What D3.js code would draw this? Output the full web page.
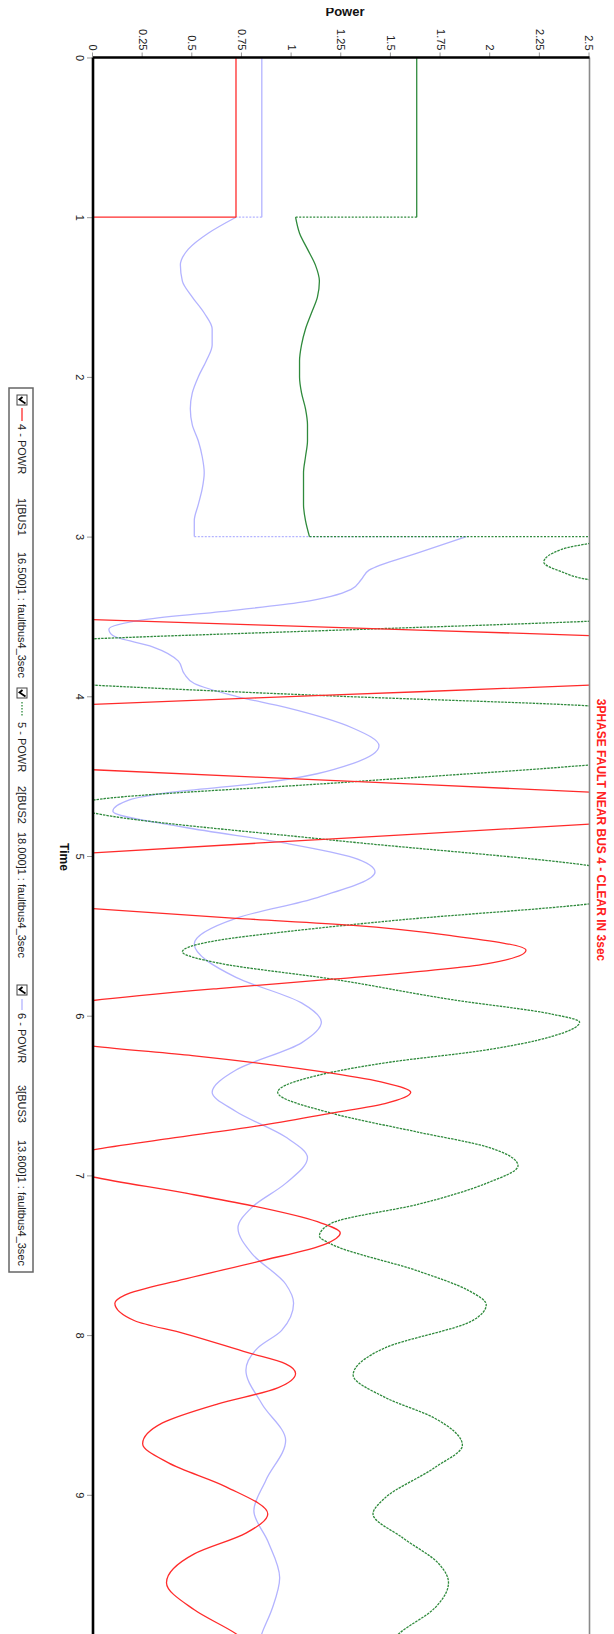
<!DOCTYPE html>
<html>
<head>
<meta charset="utf-8">
<script src="https://cdn.jsdelivr.net/npm/d3@7"></script>
<style>
  body { margin: 0; background: #fff; }
  svg { display: block; font-family: "Liberation Sans", Arial, sans-serif; }
</style>
</head>
<body>
<svg id="chart" width="614" height="1634"></svg>
<script>
// ---- data -------------------------------------------------------------
const powerTicks = [0, 0.25, 0.5, 0.75, 1, 1.25, 1.5, 1.75, 2, 2.25, 2.5];
const timeTicks = [0, 1, 2, 3, 4, 5, 6, 7, 8, 9];

// 4 - POWR (bus 1). A repeated time marks a step.
const redTime = [0, 1, 1, 3, 3, 3.25, 3.52, 3.57, 3.62, 3.77, 3.93, 3.99, 4.05, 4.25, 4.46, 4.53, 4.60, 4.70, 4.80, 4.89, 4.98, 5.15,
  5.33, 5.39, 5.435, 5.50, 5.59, 5.675, 5.77, 5.83, 5.905, 6.04, 6.19, 6.25, 6.30, 6.36, 6.42, 6.48, 6.55, 6.61, 6.69, 6.77, 6.84, 6.92,
  7.01, 7.11, 7.19, 7.29, 7.36, 7.43, 7.54, 7.65, 7.75, 7.80, 7.91, 7.99, 8.11, 8.18, 8.24, 8.33, 8.43, 8.55, 8.68, 8.80, 8.95, 9.12,
  9.24, 9.37, 9.55, 9.72, 9.87, 10];
const redPower = [0.72, 0.72, 0, 0, -1.8, -2.8, 0, 1.25, 2.5, 4.6, 2.5, 1.25, 0, -2.6, 0, 1.25, 2.5, 3.8, 2.5, 1.25, 0, -1.5,
  0, 0.72, 1.31, 1.81, 2.18, 1.98, 1.22, 0.63, 0, -0.5, 0, 0.5, 0.85, 1.20, 1.47, 1.60, 1.47, 1.20, 0.83, 0.38, 0, -0.3,
  0, 0.46, 0.80, 1.13, 1.245, 1.17, 0.83, 0.46, 0.16, 0.11, 0.21, 0.46, 0.78, 0.97, 1.02, 0.93, 0.63, 0.35, 0.25, 0.38, 0.67, 0.88,
  0.77, 0.51, 0.37, 0.51, 0.72, 0.85];

// 5 - POWR (bus 2)
const greenTime = [0, 1, 1, 1.1, 1.2, 1.3, 1.4, 1.5, 1.6, 1.7, 1.8, 1.9, 2.0, 2.1, 2.2, 2.3, 2.4, 2.5, 2.6, 2.7, 2.8, 2.9, 3,
  3, 3.08, 3.16, 3.22, 3.27, 3.40, 3.53, 3.585, 3.64, 3.78, 3.93, 4.0, 4.06, 4.25, 4.43, 4.54, 4.65, 4.69, 4.73, 4.90, 5.06, 5.18,
  5.30, 5.40, 5.47, 5.53, 5.60, 5.67, 5.77, 5.90, 5.99, 6.04, 6.13, 6.22, 6.29, 6.36, 6.48, 6.61, 6.73, 6.82, 6.94, 7.05, 7.18, 7.30,
  7.38, 7.43, 7.60, 7.72, 7.81, 7.91, 8.08, 8.25, 8.39, 8.52, 8.69, 8.83, 9.02, 9.12, 9.27, 9.43, 9.55, 9.71, 9.87, 10];
const greenPower = [1.63, 1.63, 1.02, 1.04, 1.08, 1.12, 1.14, 1.13, 1.10, 1.07, 1.05, 1.04, 1.04, 1.05, 1.07, 1.08, 1.08, 1.07, 1.06, 1.06, 1.06, 1.07, 1.09,
  2.75, 2.36, 2.27, 2.36, 2.5, 4.0, 2.5, 1.25, 0, -1.5, 0, 1.25, 2.5, 3.8, 2.5, 1.25, 0, -0.12, 0, 1.20, 2.5, 3.0,
  2.5, 1.55, 1.0, 0.62, 0.45, 0.63, 1.20, 1.81, 2.31, 2.45, 2.31, 1.95, 1.50, 1.18, 0.93, 1.20, 1.64, 1.98, 2.14, 1.98, 1.64, 1.20,
  1.14, 1.20, 1.64, 1.89, 1.98, 1.91, 1.47, 1.31, 1.47, 1.72, 1.86, 1.72, 1.47, 1.41, 1.56, 1.74, 1.79, 1.72, 1.54, 1.45];

// 6 - POWR (bus 3)
const blueTime = [0, 1, 1, 1.1, 1.2, 1.3, 1.4, 1.5, 1.6, 1.7, 1.8, 1.9, 2.0, 2.1, 2.2, 2.3, 2.4, 2.5, 2.6, 2.7, 2.8, 2.9, 3,
  3, 3.10, 3.21, 3.27, 3.33, 3.41, 3.46, 3.52, 3.58, 3.62, 3.69, 3.78, 3.86, 3.92, 4.0, 4.07, 4.20, 4.31, 4.42, 4.55, 4.60, 4.65, 4.72,
  4.82, 4.92, 5.01, 5.10, 5.26, 5.39, 5.55, 5.76, 5.92, 6.04, 6.17, 6.34, 6.48, 6.60, 6.76, 6.89, 7.05, 7.20, 7.33, 7.49, 7.68, 7.80,
  7.97, 8.08, 8.22, 8.43, 8.66, 8.91, 9.10, 9.29, 9.52, 9.72, 9.87, 10];
const bluePower = [0.85, 0.85, 0.72, 0.58, 0.48, 0.44, 0.45, 0.50, 0.56, 0.60, 0.60, 0.57, 0.53, 0.50, 0.49, 0.50, 0.53, 0.55, 0.56, 0.55, 0.53, 0.51, 0.51,
  1.88, 1.64, 1.39, 1.35, 1.30, 1.05, 0.72, 0.26, 0.08, 0.10, 0.30, 0.43, 0.46, 0.51, 0.72, 0.97, 1.31, 1.44, 1.31, 0.80, 0.40, 0.18, 0.10,
  0.46, 0.97, 1.31, 1.42, 1.13, 0.72, 0.51, 0.72, 1.05, 1.15, 1.05, 0.72, 0.60, 0.72, 0.97, 1.08, 0.97, 0.80, 0.73, 0.80, 0.97, 1.01,
  0.95, 0.83, 0.77, 0.85, 0.97, 0.87, 0.81, 0.88, 0.94, 0.90, 0.85, 0.82];

const titleText = "3PHASE FAULT NEAR BUS 4 - CLEAR IN 3sec";
const legendItems = [
  { channel: "4 - POWR", bus: "1[BUS1", base: "16.500]1 : faultbus4_3sec" },
  { channel: "5 - POWR", bus: "2[BUS2", base: "18.000]1 : faultbus4_3sec" },
  { channel: "6 - POWR", bus: "3[BUS3", base: "13.800]1 : faultbus4_3sec" }
];

// ---- layout ------------------------------------------------------------
// The plot is built in a landscape frame (time across, power up) and the
// whole frame is turned a quarter turn clockwise onto the page.
const svg = d3.select("#chart");
const W = 614;
const frame = svg.append("g").attr("transform", `translate(${W},0) rotate(90)`);

const t0 = 57.5, pxPerSec = 159.7;
const x = d3.scaleLinear().domain([0, 10]).range([t0, t0 + 10 * pxPerSec]);
const y = d3.scaleLinear().domain([0, 2.5]).range([521, 24.5]);

const defs = svg.append("defs");
defs.append("clipPath").attr("id", "plotClip")
  .append("rect")
  .attr("x", x(0)).attr("y", y(2.5))
  .attr("width", x(10) - x(0)).attr("height", y(0) - y(2.5));
defs.append("clipPath").attr("id", "pageTop")
  .append("rect").attr("x", 0).attr("y", 8).attr("width", W).attr("height", 40);

// axes
const powerAxis = frame.append("g")
  .attr("transform", `translate(${x(0)},0)`)
  .call(d3.axisLeft(y).tickValues(powerTicks).tickFormat(d => String(d)).tickSize(5).tickPadding(2));
const timeAxis = frame.append("g")
  .attr("transform", `translate(0,${y(0)})`)
  .call(d3.axisBottom(x).tickValues(timeTicks).tickFormat(d => String(d)).tickSize(6).tickPadding(3));
[powerAxis, timeAxis].forEach(a => {
  a.select(".domain").remove();
  a.selectAll(".tick line").attr("stroke", "#999");
  a.selectAll(".tick text").attr("fill", "#222").style("font-size", "11px")
    .style("font-family", "'Liberation Sans', Arial, sans-serif");
});

// series: continuous runs are smoothed, steps are straight connectors
function toPieces(times, vals) {
  const out = [];
  let cur = [];
  times.forEach((t, i) => {
    if (i > 0 && t === times[i - 1]) { out.push(cur); cur = []; }
    cur.push([t, vals[i]]);
  });
  out.push(cur);
  return out;
}
const line = d3.line().x(d => x(d[0])).y(d => y(d[1])).curve(d3.curveMonotoneX);

const plot = frame.append("g").attr("clip-path", "url(#plotClip)");
function drawSeries(times, vals, color, runDash, stepDash) {
  const pieces = toPieces(times, vals);
  const g = plot.append("g").attr("fill", "none").attr("stroke", color).attr("stroke-width", 1.3);
  pieces.forEach((p, i) => {
    g.append("path").attr("d", line(p)).attr("stroke-dasharray", runDash(p));
    if (i > 0) {
      const a = pieces[i - 1][pieces[i - 1].length - 1], b = p[0];
      g.append("line").attr("x1", x(a[0])).attr("y1", y(a[1])).attr("x2", x(b[0])).attr("y2", y(b[1]))
        .attr("stroke-dasharray", stepDash);
    }
  });
}
drawSeries(blueTime, bluePower, "#b3b3ff", () => null, "2,1.5");
drawSeries(greenTime, greenPower, "#2f8a3c", p => p[0][0] >= 3 ? "2.5,1" : null, "2,1.5");
drawSeries(redTime, redPower, "#ff2b2b", () => null, null);

// plot frame
frame.append("line").attr("x1", x(0)).attr("x2", x(10) + 20).attr("y1", y(2.5)).attr("y2", y(2.5))
  .attr("stroke", "#8a8a8a").attr("stroke-width", 1.6);
frame.append("line").attr("x1", x(0)).attr("x2", x(0)).attr("y1", y(2.5)).attr("y2", y(0))
  .attr("stroke", "#000").attr("stroke-width", 2.6);
frame.append("line").attr("x1", x(0)).attr("x2", x(10) + 20).attr("y1", y(0)).attr("y2", y(0))
  .attr("stroke", "#000").attr("stroke-width", 2.6);

// titles
svg.append("text").attr("x", 345).attr("y", 16).attr("text-anchor", "middle")
  .attr("clip-path", "url(#pageTop)")
  .style("font-size", "13px").style("font-weight", "bold").attr("fill", "#111").text("Power");
frame.append("text").attr("x", 857).attr("y", 554).attr("text-anchor", "middle")
  .style("font-size", "12px").style("font-weight", "bold").attr("fill", "#111").text("Time");
frame.append("text").attr("x", 830).attr("y", 17.5).attr("text-anchor", "middle")
  .style("font-size", "12px").style("font-weight", "bold").attr("fill", "#ff2020").text(titleText);

// legend
const lg = frame.append("g");
lg.append("rect").attr("x", 388).attr("y", 581).attr("width", 884).attr("height", 24)
  .attr("fill", "#fff").attr("stroke", "#666").attr("stroke-width", 1.5);
const legendPos = [
  { box: 395, sample: [408, 421], ch: 424, bus: 498, base: 552, color: "#ff2b2b", dash: null },
  { box: 688, sample: [702, 717], ch: 722, bus: 786, base: 832, color: "#2f8a3c", dash: "1.5,1.5" },
  { box: 985, sample: [999, 1010], ch: 1013, bus: 1085, base: 1140, color: "#b3b3ff", dash: null }
];
legendItems.forEach((it, i) => {
  const p = legendPos[i];
  lg.append("rect").attr("x", p.box).attr("y", 587).attr("width", 10).attr("height", 10)
    .attr("fill", "#fff").attr("stroke", "#444").attr("stroke-width", 1);
  lg.append("path").attr("d", `M${p.box + 2},${591.5}L${p.box + 4.5},${594.5}L${p.box + 8.5},${588.5}`)
    .attr("fill", "none").attr("stroke", "#000").attr("stroke-width", 1.8);
  lg.append("line").attr("x1", p.sample[0]).attr("x2", p.sample[1]).attr("y1", 592).attr("y2", 592)
    .attr("stroke", p.color).attr("stroke-width", 1.3).attr("stroke-dasharray", p.dash);
  [[p.ch, it.channel], [p.bus, it.bus], [p.base, it.base]].forEach(([u, s]) => {
    lg.append("text").attr("x", u).attr("y", 596.5).style("font-size", "11px").attr("fill", "#222").text(s);
  });
});
</script>
</body>
</html>
